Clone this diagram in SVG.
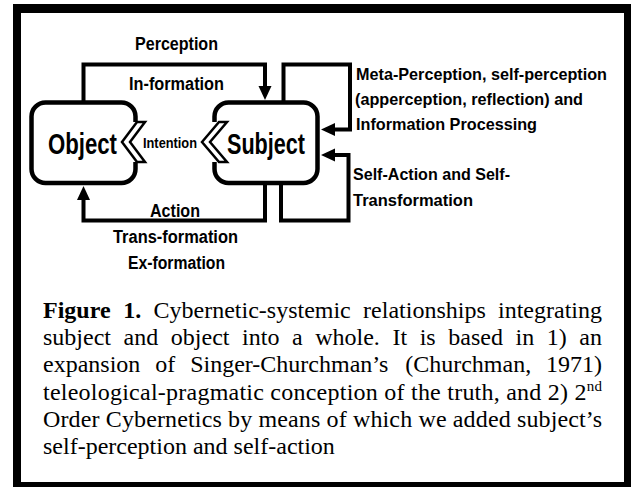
<svg xmlns="http://www.w3.org/2000/svg" width="631" height="487" viewBox="0 0 631 487">
<style>
.lbl{font-family:"Liberation Sans",Arial,sans-serif;font-weight:bold;fill:#000}
.cap{font-family:"Liberation Serif","Times New Roman",serif;font-size:24px;fill:#000}
.box{fill:#fff;stroke:#000;stroke-width:4.5}
.chev{fill:#fff;stroke:#000;stroke-width:2.5;stroke-linejoin:miter}
.con{fill:none;stroke:#000;stroke-width:4;stroke-linejoin:miter;stroke-linecap:butt}
</style>
<defs>
<marker id="ah" viewBox="0 -7 14 14" refX="1" refY="0" markerWidth="14" markerHeight="14" markerUnits="userSpaceOnUse" orient="auto">
<path d="M0,-6.5 L14,0 L0,6.5 z" fill="#000"/>
</marker>
</defs>
<rect x="13" y="4" width="618" height="483" fill="#000"/>
<rect x="21" y="13" width="603" height="469" fill="#fff"/>

<g id="connectors">
<path class="con" d="M83.5,102.5 V64.5 H265 V87" marker-end="url(#ah)"/>
<path class="con" d="M283.5,102.5 V64.5 H350 V129.5 H334" marker-end="url(#ah)"/>
<path class="con" d="M281,183 V220.5 H348.5 V155 H334" marker-end="url(#ah)"/>
<path class="con" d="M265,183 V220.5 H83.5 V199" marker-end="url(#ah)"/>
</g>

<g id="object">
<path class="box" d="M135.5,122 V116.5 A14,14 0 0 0 121.5,102.5 H45.5 A14,14 0 0 0 31.5,116.5 V169 A14,14 0 0 0 45.5,183 H121.5 A14,14 0 0 0 135.5,169 V162"/>
<polygon class="chev" points="122,142 137,122 145,122 130,142 145,162 137,162"/>
<text class="lbl" x="82.5" y="154" font-size="29" text-anchor="middle" textLength="69" lengthAdjust="spacingAndGlyphs">Object</text>
</g>

<g id="subject">
<path class="box" d="M214.5,122 V116.5 A14,14 0 0 1 228.5,102.5 H303.5 A14,14 0 0 1 317.5,116.5 V169 A14,14 0 0 1 303.5,183 H228.5 A14,14 0 0 1 214.5,169 V162"/>
<polygon class="chev" points="202,142 219,122 227,122 210,142 227,162 219,162"/>
<text class="lbl" x="266" y="154" font-size="29" text-anchor="middle" textLength="78" lengthAdjust="spacingAndGlyphs">Subject</text>
</g>

<g id="labels">
<text class="lbl" x="176.5" y="50" font-size="18" text-anchor="middle" textLength="83" lengthAdjust="spacingAndGlyphs">Perception</text>
<text class="lbl" x="176.5" y="90" font-size="18" text-anchor="middle" textLength="95" lengthAdjust="spacingAndGlyphs">In-formation</text>
<text class="lbl" x="170" y="148" font-size="15" text-anchor="middle" textLength="54" lengthAdjust="spacingAndGlyphs">Intention</text>
<text class="lbl" x="175" y="217" font-size="18" text-anchor="middle" textLength="50" lengthAdjust="spacingAndGlyphs">Action</text>
<text class="lbl" x="175.5" y="243" font-size="18" text-anchor="middle" textLength="125" lengthAdjust="spacingAndGlyphs">Trans-formation</text>
<text class="lbl" x="176.5" y="269" font-size="18" text-anchor="middle" textLength="97" lengthAdjust="spacingAndGlyphs">Ex-formation</text>
<text class="lbl" x="356" y="79.5" font-size="17" textLength="251" lengthAdjust="spacingAndGlyphs">Meta-Perception, self-perception</text>
<text class="lbl" x="355" y="105" font-size="17" textLength="228" lengthAdjust="spacingAndGlyphs">(apperception, reflection) and</text>
<text class="lbl" x="356" y="130" font-size="17" textLength="181" lengthAdjust="spacingAndGlyphs">Information Processing</text>
<text class="lbl" x="353" y="180" font-size="17" textLength="157" lengthAdjust="spacingAndGlyphs">Self-Action and Self-</text>
<text class="lbl" x="353" y="206" font-size="17" textLength="120" lengthAdjust="spacingAndGlyphs">Transformation</text>
</g>

<g id="caption">
<text class="cap" y="318"><tspan x="43" font-weight="bold">Figure</tspan><tspan x="123.25" font-weight="bold">1.</tspan><tspan x="153.5">Cybernetic-systemic</tspan><tspan x="363.1">relationships</tspan></text>
<text class="cap" x="602" y="318" text-anchor="end">integrating</text>
<text class="cap" y="345.2"><tspan x="43">subject</tspan><tspan x="123.58">and</tspan><tspan x="170.82">object</tspan><tspan x="242.06">into</tspan><tspan x="291.98">a</tspan><tspan x="315.22">whole.</tspan><tspan x="392.46">It</tspan><tspan x="419.7">is</tspan><tspan x="448.28">based</tspan><tspan x="515.51">in</tspan><tspan x="546.76">1)</tspan></text>
<text class="cap" x="602" y="345.2" text-anchor="end">an</text>
<text class="cap" y="372.4"><tspan x="43">expansion</tspan><tspan x="155.3">of</tspan><tspan x="190.2">Singer-Churchman’s</tspan><tspan x="405.2">(Churchman,</tspan></text>
<text class="cap" x="602" y="372.4" text-anchor="end">1971)</text>
<text class="cap" x="43" y="399.6" textLength="559" lengthAdjust="spacing">teleological-pragmatic conception of the truth, and 2) 2<tspan font-size="15" dy="-9">nd</tspan></text>
<text class="cap" x="43" y="426.8" textLength="559" lengthAdjust="spacing">Order Cybernetics by means of which we added subject’s</text>
<text class="cap" x="43" y="454">self-perception and self-action</text>
</g>
</svg>
